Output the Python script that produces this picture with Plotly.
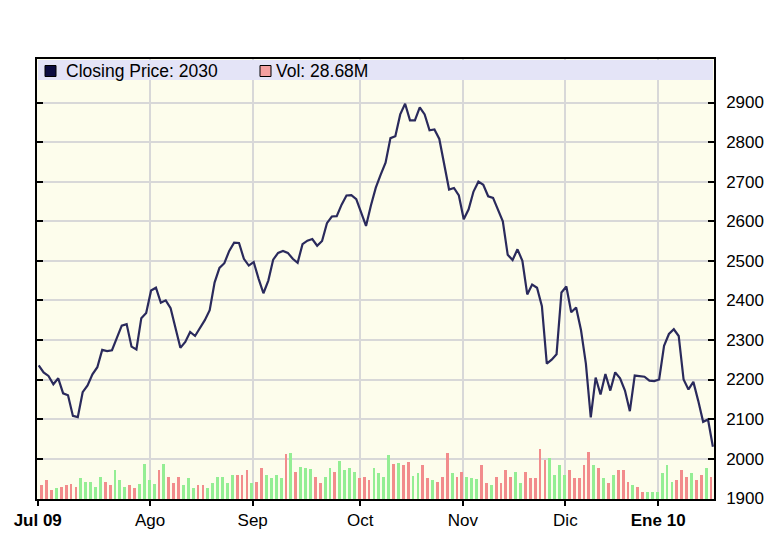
import plotly.graph_objects as go

# ---- data ----
closes = [2236, 2218, 2209, 2188, 2203, 2165, 2160, 2108, 2105, 2168,
          2185, 2213, 2231, 2275, 2272, 2274, 2305, 2336, 2340, 2283,
          2276, 2355, 2368, 2425, 2432, 2394, 2400, 2380, 2330, 2280,
          2295, 2320, 2310, 2330, 2350, 2375, 2445, 2482, 2494, 2525,
          2546, 2545, 2505, 2488, 2497, 2455, 2418, 2450, 2503, 2520,
          2525, 2520, 2505, 2495, 2542, 2551, 2555, 2538, 2550, 2595,
          2612, 2613, 2642, 2665, 2666, 2656, 2620, 2588, 2640, 2685,
          2718, 2748, 2810, 2815, 2870, 2897, 2855, 2855, 2888, 2870,
          2830, 2832, 2808, 2740, 2680, 2684, 2665, 2605, 2630, 2675,
          2700, 2692, 2663, 2659, 2630, 2600, 2515, 2502, 2529, 2500,
          2415, 2440, 2432, 2385, 2240, 2250, 2264, 2420, 2435, 2370,
          2382, 2325, 2240, 2104, 2205, 2162, 2214, 2172, 2218, 2203,
          2172, 2120, 2210, 2209, 2207, 2197, 2196, 2200, 2285, 2315,
          2327, 2310, 2200, 2175, 2194, 2146, 2093, 2099, 2030]

volumes_m = [18.2, 24.7, 11.7, 13.9, 16.0, 18.2, 19.1, 16.0, 26.9, 22.5,
             22.5, 16.0, 29.0, 22.5, 18.2, 37.7, 24.7, 16.0, 18.2, 13.9,
             19.1, 45.1, 24.7, 19.1, 37.7, 45.1, 29.0, 20.4, 29.0, 18.2,
             26.9, 13.9, 18.2, 18.2, 13.9, 20.4, 29.0, 28.2, 20.4, 31.2,
             31.2, 31.2, 37.7, 20.4, 22.5, 39.9, 31.2, 26.9, 31.2, 27.7,
             58.1, 59.4, 35.5, 42.0, 39.9, 39.0, 29.0, 20.4, 29.0, 39.9,
             35.5, 49.4, 37.7, 39.9, 35.5, 26.9, 29.0, 24.7, 39.9, 33.4,
             29.0, 57.2, 45.1, 46.4, 44.2, 48.5, 30.3, 33.4, 44.2, 26.9,
             24.7, 22.5, 29.0, 59.8, 33.4, 29.0, 35.5, 29.0, 27.7, 25.6,
             44.2, 20.4, 18.2, 29.0, 20.4, 37.7, 29.0, 35.5, 20.4, 35.5,
             26.9, 26.9, 65.0, 50.7, 53.7, 31.2, 44.2, 31.2, 37.7, 26.9,
             26.9, 44.2, 60.7, 44.2, 39.9, 26.9, 20.4, 31.2, 37.7, 37.7,
             22.5, 18.2, 16.0, 9.5, 9.5, 9.5, 9.5, 33.4, 44.2, 22.5,
             24.7, 37.7, 29.0, 33.4, 24.7, 31.2, 39.9, 28.68]

# 1 = up day (green), 0 = down day (red)
vol_up = [0, 0, 0, 1, 0, 0, 0, 0, 1, 1, 1, 1, 1, 0, 0, 1, 1, 1, 0, 0,
          1, 1, 1, 1, 0, 1, 0, 0, 0, 1, 1, 1, 0, 0, 1, 1, 1, 1, 1, 1,
          0, 0, 0, 1, 0, 0, 1, 1, 1, 1, 0, 1, 0, 1, 1, 1, 0, 0, 1, 1,
          0, 1, 1, 1, 1, 0, 0, 0, 1, 1, 1, 1, 0, 1, 0, 0, 1, 1, 0, 0,
          1, 0, 0, 0, 1, 0, 0, 1, 1, 1, 0, 0, 1, 0, 0, 0, 0, 1, 1, 0,
          0, 0, 0, 0, 1, 1, 1, 1, 0, 0, 0, 0, 0, 1, 0, 1, 0, 1, 0, 0,
          0, 1, 0, 0, 1, 1, 1, 1, 1, 1, 0, 0, 0, 1, 0, 0, 1, 0]

month_labels = ["<b>Jul 09</b>", "Ago", "Sep", "Oct", "Nov", "Dic", "<b>Ene 10</b>"]
month_start_idx = [0, 23, 44, 66, 87, 108, 127]
price_ticks = [1900, 2000, 2100, 2200, 2300, 2400, 2500, 2600, 2700, 2800, 2900]

# ---- figure ----
FONT = "Liberation Sans, Arial, Helvetica, sans-serif"
W, H = 768, 558
ML, MR, MT, MB = 37, 54, 59, 59
PW, PH = W - ML - MR, H - MT - MB

x_price = list(range(len(closes)))
x_vol = list(range(len(volumes_m)))
bar_colors = ["#94ee94" if u else "#f28c8c" for u in vol_up]

fig = go.Figure()
fig.add_trace(go.Bar(
    x=x_vol, y=volumes_m, marker=dict(color=bar_colors, line=dict(width=0)),
    width=0.58, offset=0.33, yaxis="y", hoverinfo="skip", showlegend=False))
fig.add_trace(go.Scatter(
    x=x_price, y=closes, mode="lines", yaxis="y2",
    line=dict(color="#2a2a5c", width=2.2), showlegend=False))


def px_x(p):
    return (p - ML) / PW


def px_y(p):
    return (H - MB - p) / PH


tickvals = [s - 0.2 for s in month_start_idx]

fig.update_layout(
    width=W, height=H,
    margin=dict(l=ML, r=MR, t=MT, b=MB, pad=0, autoexpand=False),
    paper_bgcolor="white", plot_bgcolor="#fdfdec",
    font=dict(family=FONT, size=17, color="black"),
    bargap=0,
    xaxis=dict(
        range=[-0.348, 138.225], tickmode="array", tickvals=tickvals,
        ticktext=month_labels, ticks="outside", ticklen=5, tickwidth=1.5,
        tickcolor="black", showgrid=True, gridcolor="#d8d8d8", gridwidth=1.5,
        showline=True, linecolor="black", linewidth=1.5, mirror=True,
        zeroline=False, automargin=False, tickfont=dict(size=17, color="black")),
    yaxis=dict(range=[0, PH * 1.3], visible=False, showgrid=False,
               zeroline=False, fixedrange=True, automargin=False),
    yaxis2=dict(
        overlaying="y", side="right", range=[1898, 3010],
        tickmode="array", tickvals=price_ticks,
        ticks="inside", ticklen=6, tickwidth=1.5, tickcolor="black",
        showgrid=True, gridcolor="#d8d8d8", gridwidth=1.5,
        showline=True, linecolor="black", linewidth=1.5, mirror="ticks",
        zeroline=False, automargin=False, tickfont=dict(size=17, color="black"),
        ticklabelstandoff=7),
)

# legend band at top of plot
fig.add_shape(type="rect", xref="paper", yref="paper",
              x0=px_x(38), x1=px_x(713), y0=px_y(80), y1=px_y(60),
              fillcolor="#e4e4f7", line=dict(width=0), layer="above")
fig.add_shape(type="rect", xref="paper", yref="paper",
              x0=px_x(45), x1=px_x(56), y0=px_y(76.5), y1=px_y(65.5),
              fillcolor="#0c0c40", line=dict(color="black", width=1), layer="above")
fig.add_shape(type="rect", xref="paper", yref="paper",
              x0=px_x(260), x1=px_x(271), y0=px_y(76.5), y1=px_y(65.5),
              fillcolor="#f4a0a0", line=dict(color="black", width=1), layer="above")
fig.add_annotation(xref="paper", yref="paper", x=px_x(64), y=px_y(71),
                   xanchor="left", yanchor="middle", showarrow=False,
                   text=f"Closing Price: {closes[-1]}",
                   font=dict(family=FONT, size=17.5, color="black"))
fig.add_annotation(xref="paper", yref="paper", x=px_x(274), y=px_y(71),
                   xanchor="left", yanchor="middle", showarrow=False,
                   text=f"Vol: {volumes_m[-1]:.2f}M",
                   font=dict(family=FONT, size=17.5, color="black"))

fig.write_html("out.html")
